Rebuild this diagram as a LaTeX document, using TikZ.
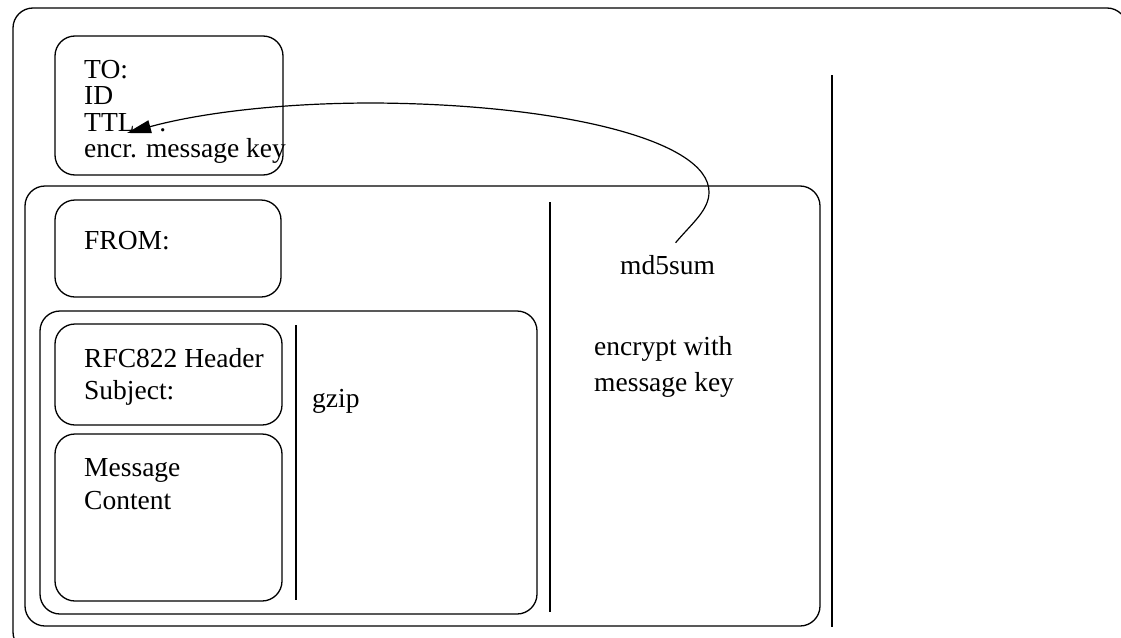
\documentclass[tikz,border=0pt]{standalone}
\usepackage{fontspec}
\setmainfont{Liberation Serif}
\usetikzlibrary{arrows.meta,calc}
\begin{document}
\begin{tikzpicture}[x=1pt,y=-1pt,
  box/.style={draw=black,line width=1.3pt,rounded corners=20pt},
  sep/.style={draw=black,line width=1.3pt},
  lbl/.style={anchor=base west,inner sep=0pt,font=\fontsize{27.5}{27.5}\selectfont},
  conn/.style={draw=black,line width=1.2pt,-{Triangle[length=24pt,width=13pt]}}]
\useasboundingbox (0,0) rectangle (1121,637);
\begin{scope}
\clip (0,0) rectangle (1121,637);
% outer box
\draw[box] (13,8) rectangle (1127,652);
\end{scope}
\draw[sep] (832,75) -- (832,627);
% TO box
\draw[box] (55,36) rectangle (283,175);
\node[lbl] (to) at (84,78) {TO:};
\node[lbl] (id) at (84,104) {ID};
\node[lbl] (ttl) at (84,131) {TTL\kern0.9em.};
\node[lbl] (key) at (84,157) {encr. message key};
% encrypted part
\draw[box] (25,186) rectangle (820,626);
\draw[sep] (550,202) -- (550,612);
\draw[box] (55,200) rectangle (281,297);
\node[lbl] (from) at (84,249) {FROM:};
\node[lbl] (md5) at (620,274) {md5sum};
\node[lbl] (enc1) at (594,355) {encrypt with};
\node[lbl] (enc2) at (594,391) {message key};
% gzip part
\draw[box] (40,311) rectangle (537,614);
\draw[sep] (296,325) -- (296,600);
\draw[box] (55,324) rectangle (282,425);
\node[lbl] (rfc) at (84,367) {RFC822 Header};
\node[lbl] (subj) at (84,399) {Subject:};
\node[lbl] (gzip) at (312,407) {gzip};
\draw[box] (55,434) rectangle (282,601);
\node[lbl] (msg) at (84,476) {Message};
\node[lbl] (cont) at (84,509) {Content};
% arrow
\coordinate (start) at ($(md5.north)+(8,-12)$);
\coordinate (ttltip) at (127,133);
\draw[conn] (start) .. controls +(17,-20) and (709,210) .. (709,192)
  .. controls (709,140) and (560,104) .. (373,103)
  .. controls (280,103) and (200,113) .. (ttltip);
\end{tikzpicture}
\end{document}
